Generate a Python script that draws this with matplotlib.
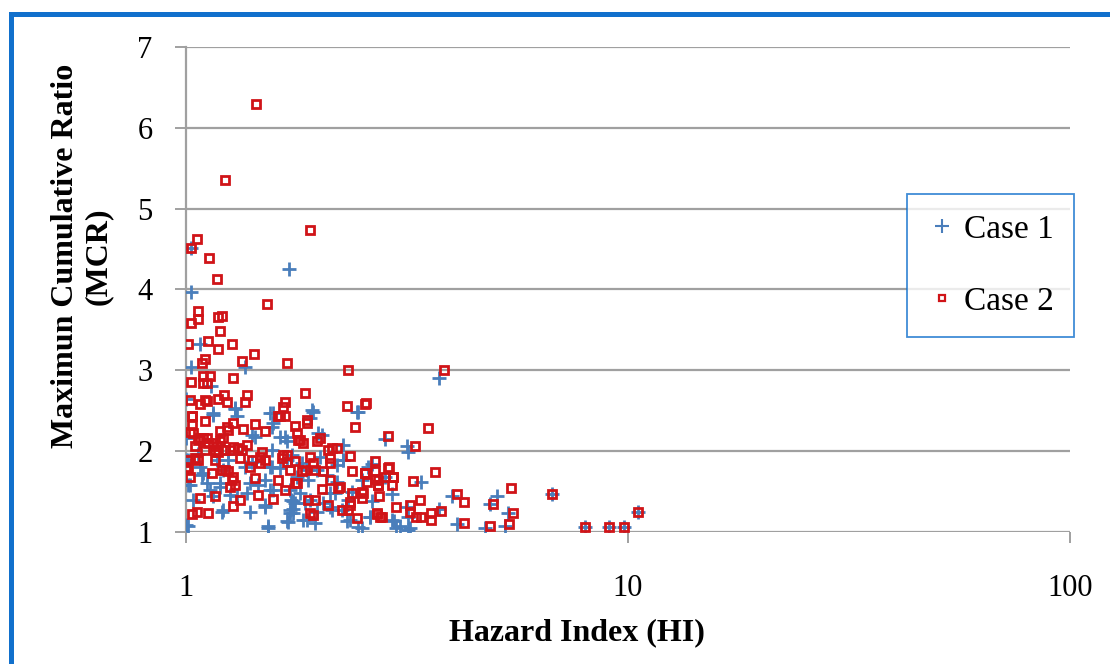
import matplotlib
matplotlib.use("Agg")
import matplotlib.pyplot as plt
from matplotlib.lines import Line2D
from matplotlib.patches import Rectangle

# ---------------- data ----------------
case1_hi = [1.025, 1.71, 1.025, 1.076, 1.025, 1.36, 1.137, 1.0, 1.29, 1.153,
            1.576, 1.925, 2.454, 3.73, 2.82, 3.16, 3.185, 2.63, 2.82, 3.41,
            6.72, 2.92, 3.99, 5.05, 4.87, 3.73, 5.36, 2.61, 4.11, 4.75,
            5.27, 2.95, 2.99, 3.21, 2.50, 7.99, 9.07, 9.81, 10.55, 3.185,
            1.291, 1.549, 1.576, 1.433, 1.632, 1.69, 1.066, 1.247, 1.563, 1.01,
            1.076, 1.094, 1.214, 1.36, 1.563, 1.01, 1.114, 1.194, 1.396, 1.509,
            1.632, 1.153, 1.258, 1.372, 1.549, 1.719, 1.205, 1.509, 1.719, 1.0,
            1.535, 1.69, 1.749, 1.037, 1.0,
            1.941, 2.433, 1.993, 1.734, 1.827, 1.875, 2.01, 2.27, 2.585, 1.78,
            1.891, 2.081, 2.193, 2.497, 1.765, 1.859, 2.117, 2.33, 2.631, 1.719,
            1.842, 1.958, 2.31, 2.454, 2.608, 2.921, 3.159, 3.05, 2.136, 3.185,
            1.01, 1.535, 1.70, 1.749,
            1.153, 1.302, 1.408, 1.563, 1.675, 1.908, 2.028, 2.27, 1.0, 1.085,
            1.174, 1.247, 1.408, 1.549, 1.69, 1.976, 2.193, 2.27, 1.021, 1.133,
            1.194, 1.302, 1.457, 1.509, 1.576, 1.73, 1.811, 1.908, 2.045, 2.17,
            2.371, 1.214, 1.396, 1.749, 1.875, 1.976, 2.117, 2.35, 2.251]
case1_mcr = [4.51, 4.25, 3.97, 3.32, 3.04, 3.04, 2.80, 2.65, 2.53, 2.47,
             2.47, 2.51, 2.49, 2.90, 2.15, 2.06, 1.99, 1.84, 1.68, 1.62,
             1.47, 1.47, 1.44, 1.44, 1.35, 1.28, 1.23, 1.19, 1.10, 1.05,
             1.07, 1.13, 1.05, 1.05, 1.05, 1.06, 1.06, 1.06, 1.25, 1.02,
             2.52, 2.47, 2.35, 2.18, 2.18, 2.12, 1.97, 1.97, 2.01, 1.89,
             1.81, 1.73, 1.77, 1.81, 1.81, 1.58, 1.60, 1.60, 1.60, 1.64,
             1.79, 1.44, 1.46, 1.48, 1.52, 1.52, 1.25, 1.33, 1.27, 1.09,
             1.07, 1.13, 1.38, 1.40, 2.16,
             2.49, 2.49, 2.23, 1.95, 1.85, 1.77, 1.93, 1.89, 1.81, 1.68,
             1.64, 1.71, 1.62, 1.64, 1.36, 1.36, 1.48, 1.40, 1.38, 1.23,
             1.15, 1.11, 1.13, 1.06, 1.19, 1.15, 1.31, 1.07, 1.27, 1.19,
             1.07, 1.05, 1.12, 1.28,
             2.45, 2.43, 2.20, 2.30, 2.18, 2.41, 2.20, 2.08, 1.89, 1.71,
             1.89, 1.89, 1.87, 1.81, 1.89, 1.77, 1.83, 1.89, 1.58, 1.52,
             1.56, 1.44, 1.58, 1.31, 1.52, 1.40, 1.48, 1.40, 1.36, 1.48,
             1.50, 1.27, 1.25, 1.23, 1.15, 1.25, 1.31, 1.15, 1.27]

case2_hi = [1.44, 1.225, 1.908, 1.059, 1.025, 1.129, 1.177, 1.527, 1.066, 1.066,
            1.025, 1.183, 1.208, 1.194, 1.012, 1.123, 1.183, 1.269, 1.425, 1.104,
            1.085, 1.337, 1.695, 2.32, 1.025, 1.094, 1.133, 1.094, 1.114, 1.275,
            1.86, 1.22, 1.18, 1.372, 1.36, 1.021, 1.104, 1.076, 1.236, 1.675,
            1.66, 1.632, 1.675, 1.875, 2.31, 2.54, 1.03,
            3.836, 2.55, 3.52, 2.87, 3.297, 2.67, 2.88, 2.54, 2.68, 2.72,
            2.94, 2.93, 3.66, 3.26, 2.52, 5.44, 6.72, 4.11, 4.25, 4.96,
            3.38, 2.99, 3.21, 3.21, 3.32, 3.41, 3.58, 3.58, 3.78, 5.50,
            2.70, 2.77, 4.25, 4.87, 5.39, 7.99, 9.07, 9.81, 10.55,
            1.114, 1.03, 1.104, 1.28, 1.433, 1.236, 1.247, 1.194, 1.348, 1.509,
            1.618, 1.765, 1.78, 1.795, 1.03, 1.021, 1.037, 1.048, 1.066, 1.076,
            1.094, 1.114, 1.123, 1.104, 1.153, 1.174, 1.194, 1.214, 1.163, 1.183,
            1.225, 1.258, 1.28, 1.313, 1.336, 1.372, 1.483, 1.47, 1.509, 1.47,
            1.66, 1.69, 1.646, 1.69, 1.719, 1.765, 1.01, 1.0, 1.01, 1.048,
            1.066, 1.021, 1.163, 1.325, 1.205, 1.225, 1.247, 1.143, 1.28, 1.269,
            1.291, 1.258, 1.433, 1.618, 1.675, 1.457, 1.325, 1.28, 1.163, 1.076,
            1.059, 1.03, 1.123, 1.576, 1.408, 1.396,
            1.875, 2.412, 1.811, 1.842, 1.976, 2.01, 2.099, 2.136, 2.193, 2.35,
            2.117, 2.117, 1.908, 1.941, 1.765, 1.827, 1.859, 1.958, 2.045, 2.371,
            2.541, 2.677, 2.87, 2.945, 2.82, 1.78, 2.117, 2.231, 2.211, 2.028,
            2.723, 2.723, 2.564, 2.497, 2.497, 2.74, 2.371, 1.891, 1.958, 2.099,
            2.35, 2.35, 2.251, 2.33, 1.908, 1.941, 2.433, 2.70, 2.747]
case2_mcr = [6.29, 5.36, 4.74, 4.63, 4.51, 4.39, 4.13, 3.82, 3.74, 3.64,
             3.59, 3.66, 3.67, 3.49, 3.33, 3.36, 3.26, 3.33, 3.20, 3.14,
             3.09, 3.12, 3.09, 3.00, 2.86, 2.93, 2.93, 2.84, 2.84, 2.91,
             2.72, 2.69, 2.65, 2.69, 2.61, 2.63, 2.63, 2.58, 2.61, 2.61,
             2.55, 2.43, 2.43, 2.39, 2.56, 2.58, 2.44,
             3.00, 2.59, 2.29, 2.19, 2.06, 1.88, 1.80, 1.73, 1.66, 1.58,
             1.68, 1.58, 1.74, 1.63, 1.48, 1.55, 1.47, 1.47, 1.37, 1.35,
             1.40, 1.31, 1.33, 1.25, 1.19, 1.19, 1.24, 1.15, 1.26, 1.24,
             1.22, 1.19, 1.11, 1.08, 1.10, 1.06, 1.06, 1.06, 1.25,
             2.62, 2.43, 2.37, 2.35, 2.34, 2.30, 2.26, 2.25, 2.27, 2.25,
             2.43, 2.31, 2.22, 2.14, 2.32, 2.24, 2.22, 2.06, 2.14, 2.16,
             2.16, 2.16, 2.10, 2.01, 2.10, 2.06, 2.12, 2.16, 2.01, 1.99,
             2.01, 2.01, 2.05, 2.04, 2.02, 2.08, 1.99, 1.93, 1.89, 1.85,
             1.95, 1.95, 1.91, 1.87, 1.77, 1.60, 1.89, 1.81, 1.77, 1.91,
             1.89, 1.68, 1.89, 1.91, 1.77, 1.77, 1.75, 1.73, 1.68, 1.64,
             1.58, 1.56, 1.67, 1.64, 1.52, 1.46, 1.40, 1.32, 1.44, 1.42,
             1.25, 1.22, 1.24, 1.41, 1.89, 1.81,
             2.35, 2.30, 2.14, 2.10, 2.12, 2.16, 2.01, 2.04, 2.04, 1.94,
             1.92, 1.85, 1.93, 1.85, 1.88, 1.75, 1.77, 1.77, 1.75, 1.75,
             1.73, 1.75, 1.79, 1.68, 1.68, 1.60, 1.64, 1.56, 1.54, 1.53,
             1.58, 1.64, 1.62, 1.50, 1.42, 1.445, 1.48, 1.40, 1.39, 1.33,
             1.375, 1.33, 1.27, 1.27, 1.23, 1.21, 1.17, 1.23, 1.19]

series_labels = ["Case 1", "Case 2"]
x_ticks = [1, 10, 100]
x_tick_labels = ["1", "10", "100"]
y_ticks = [1, 2, 3, 4, 5, 6, 7]
x_label = "Hazard Index (HI)"
y_label = "Maximun Cumulative Ratio\n(MCR)"

# ---------------- style ----------------
plt.rcParams['font.family'] = ['Liberation Serif', 'DejaVu Serif']
W, H = 1110, 664
fig = plt.figure(figsize=(W / 100, H / 100), dpi=100)
fig.patch.set_facecolor('white')

# outer blue frame
fig.patches.append(Rectangle((10.5 / W, -0.05), 1.2, 1 - 13.7 / H + 0.05,
                             transform=fig.transFigure, fill=False,
                             edgecolor='#1170CC', linewidth=3.6, zorder=0))

ax = fig.add_axes([186 / W, 1 - 532 / H, (1070 - 186) / W, (532 - 47) / H])
ax.set_xscale('log')
ax.set_xlim(1, 100)
ax.set_ylim(1, 7)

grid_c = '#a0a0a0'
for s in ['top', 'right', 'bottom']:
    ax.spines[s].set_visible(False)
ax.spines['left'].set_color(grid_c)
ax.spines['left'].set_linewidth(1.6)
ax.set_yticks(y_ticks)
ax.yaxis.grid(True, color=grid_c, linewidth=1.6)
ax.set_axisbelow(True)

ax.set_xticks(x_ticks)
ax.set_xticklabels(x_tick_labels)
ax.xaxis.set_minor_locator(matplotlib.ticker.NullLocator())
ax.tick_params(axis='both', which='major', color=grid_c, width=1.4, length=8,
               labelsize=22, labelcolor='black')
ax.tick_params(axis='y', pad=16)
ax.tick_params(axis='x', pad=22)

blue = '#4A7EBB'
red = '#D01418'
ax.plot(case1_hi, case1_mcr, linestyle='none', marker='+', markersize=10.5,
        markeredgewidth=2.0, color=blue, zorder=3)
ax.plot(case2_hi, case2_mcr, linestyle='none', marker='s', markersize=6.3,
        markerfacecolor='none', markeredgewidth=2.0, markeredgecolor=red, zorder=4)

fig.text(577 / W, 1 - 633 / H, x_label, ha='center', va='center',
         fontsize=23, fontweight='bold')
fig.text(82 / W, 1 - 256 / H, y_label, ha='center', va='center',
         rotation=90, fontsize=23, fontweight='bold', multialignment='center',
         linespacing=1.2)

handles = [Line2D([], [], linestyle='none', marker='+', markersize=9.5,
                  markeredgewidth=1.5, color=blue),
           Line2D([], [], linestyle='none', marker='s', markersize=4.5,
                  markerfacecolor='none', markeredgewidth=1.6, markeredgecolor=red)]
leg = fig.legend(handles, series_labels, loc='upper left',
                 bbox_to_anchor=(907 / W, 1 - 194 / H), fontsize=24,
                 frameon=True, fancybox=False, borderpad=0.6, labelspacing=1.25,
                 handlelength=0.9, handletextpad=0.2, borderaxespad=0)
leg.get_frame().set_edgecolor('#1170CC')
leg.get_frame().set_linewidth(1.3)

fig.savefig('out.png', dpi=100, facecolor='white')
